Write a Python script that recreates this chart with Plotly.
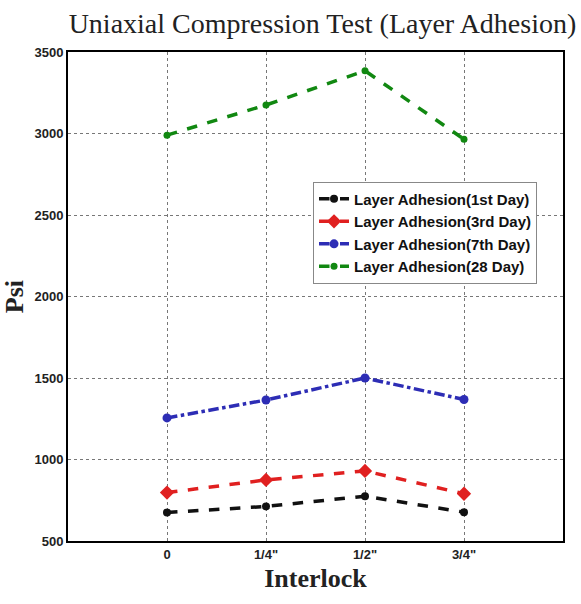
import plotly.graph_objects as go

categories = ["0", "1/4\"", "1/2\"", "3/4\""]
day1 = [675, 712, 775, 677]
day3 = [797, 875, 930, 790]
day7 = [1255, 1365, 1500, 1368]
day28 = [2990, 3175, 3385, 2965]
yticks = [500, 1000, 1500, 2000, 2500, 3000, 3500]

xpos = list(range(len(categories)))

fig = go.Figure()
series = [
    ("Layer Adhesion(1st Day)", day1, "#111111", "dash", "circle", 8),
    ("Layer Adhesion(3rd Day)", day3, "#e02020", "dash", "diamond", 11),
    ("Layer Adhesion(7th Day)", day7, "#2d2db5", "dashdot", "circle", 9),
    ("Layer Adhesion(28 Day)", day28, "#118811", "dash", "circle", 7),
]
for name, vals, col, dash, sym, ms in series:
    fig.add_trace(go.Scatter(
        x=xpos, y=vals, name=name, mode="lines+markers",
        line=dict(color=col, width=3.5, dash=dash),
        marker=dict(color=col, symbol=sym, size=ms),
    ))

fig.update_layout(
    width=581, height=604,
    margin=dict(l=68, r=18, t=52, b=63),
    paper_bgcolor="white", plot_bgcolor="white",
    title=dict(text="Uniaxial Compression Test (Layer Adhesion)",
               x=0.555, xanchor="center", y=0.962, yanchor="middle",
               font=dict(family="Liberation Serif", size=28, color="#222")),
    xaxis=dict(range=[-1, 4], tickvals=xpos, ticktext=categories,
               showgrid=True, gridcolor="#777", griddash="dot", gridwidth=1,
               showline=True, linecolor="black", linewidth=2, mirror=True,
               ticks="", zeroline=False,
               tickfont=dict(family="Liberation Sans", size=13, color="#222", weight="bold"),
               title=dict(text="<b>Interlock</b>", standoff=8,
                          font=dict(family="Liberation Serif", size=26, color="#222"))),
    yaxis=dict(range=[500, 3500], tickvals=yticks,
               showgrid=True, gridcolor="#777", griddash="dot", gridwidth=1,
               showline=True, linecolor="black", linewidth=2, mirror=True,
               ticks="", zeroline=False,
               tickfont=dict(family="Liberation Sans", size=13, color="#222", weight="bold"),
               title=dict(text="<b>Psi</b>", standoff=4,
                          font=dict(family="Liberation Serif", size=26, color="#222"))),
    legend=dict(x=0.495, y=0.735, xanchor="left", yanchor="top",
                bgcolor="white", bordercolor="#888", borderwidth=1,
                font=dict(family="Liberation Sans", size=15, color="#111", weight="bold"),
                itemwidth=30, tracegroupgap=0),
    showlegend=True,
)

fig.write_html("out.html")
